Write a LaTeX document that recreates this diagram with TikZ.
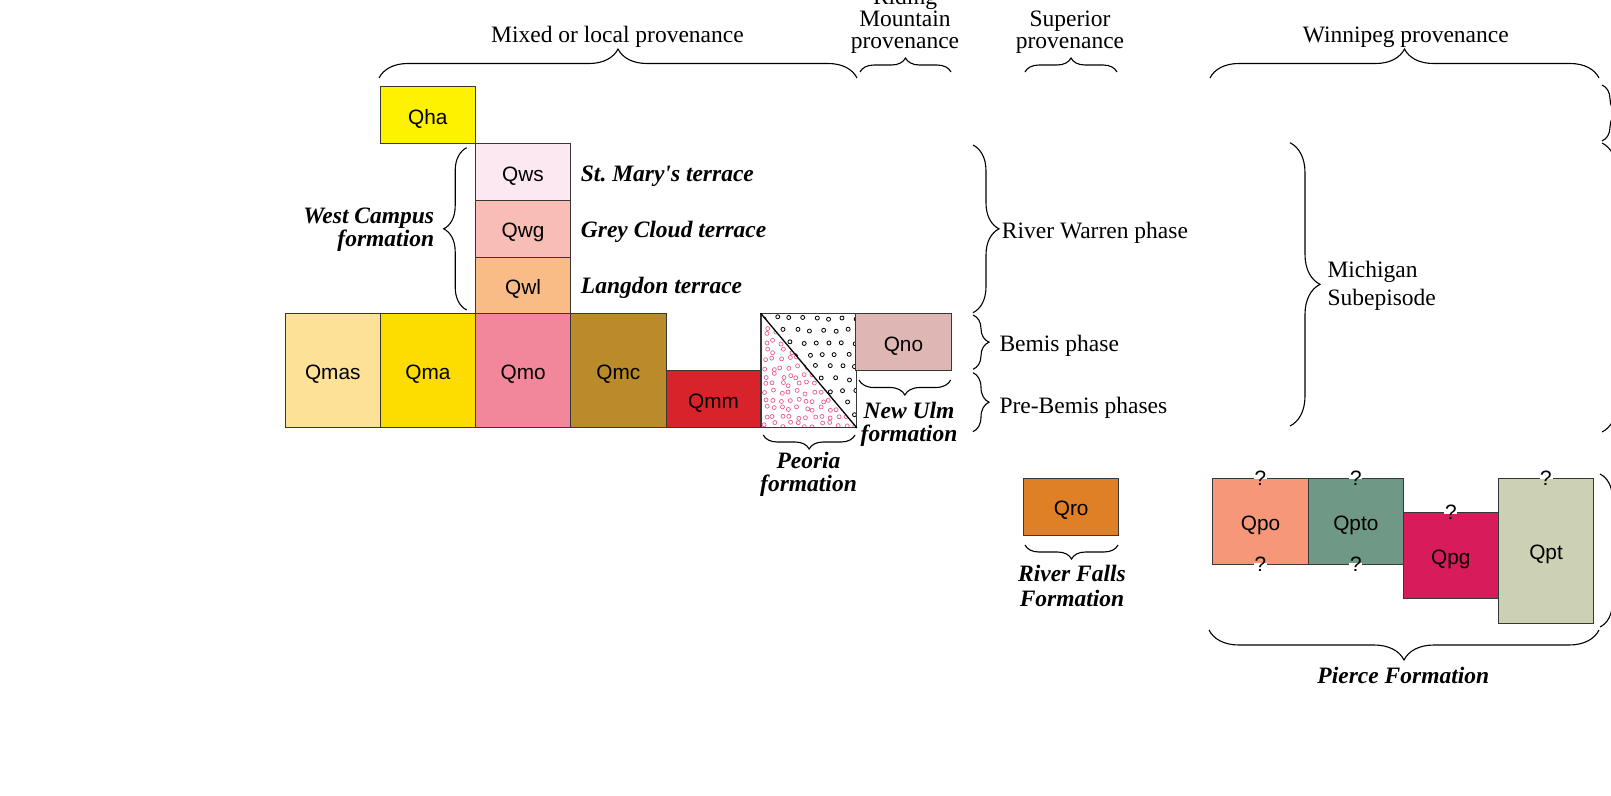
\documentclass[tikz,border=0pt]{standalone}
\usepackage{fontspec}
\setmainfont{Liberation Serif}[Ligatures=TeXOff]
\setsansfont{Liberation Sans}
\usetikzlibrary{decorations.pathreplacing}

\definecolor{cqha}{RGB}{255,242,0}
\definecolor{cqws}{RGB}{252,232,240}
\definecolor{cqwg}{RGB}{248,189,181}
\definecolor{cqwl}{RGB}{249,188,135}
\definecolor{cqmas}{RGB}{253,225,150}
\definecolor{cqma}{RGB}{253,220,0}
\definecolor{cqmo}{RGB}{242,134,154}
\definecolor{cqmc}{RGB}{186,139,42}
\definecolor{cqmm}{RGB}{217,35,42}
\definecolor{cqno}{RGB}{222,182,179}
\definecolor{cqro}{RGB}{224,128,38}
\definecolor{cqpo}{RGB}{246,151,122}
\definecolor{cqpto}{RGB}{111,152,135}
\definecolor{cqpg}{RGB}{216,27,91}
\definecolor{cqpt}{RGB}{205,209,180}
\definecolor{cdots}{RGB}{233,92,150}
\definecolor{cedge}{RGB}{55,55,55}

\tikzset{
  unit/.style={draw=cedge, line width=1pt, inner sep=0pt, minimum width=95.2,
    minimum height=56.8, text height=19pt, text depth=1pt,
    font=\sffamily\fontsize{20.8}{24}\selectfont},
  qtext/.style={inner sep=0pt, font=\sffamily\fontsize{20.8}{24}\selectfont},
  lab/.style={inner sep=0pt, font=\fontsize{23.5}{22}\selectfont},
  blab/.style={inner sep=0pt, font=\bfseries\itshape\fontsize{23.5}{23.4}\selectfont},
  curly/.style={decorate, line width=1.1pt, decoration={brace, amplitude=#1}},
}

% question mark sitting on a box edge
\newcommand{\qmark}[2]{%
  \draw[white, line width=3pt] ([xshift=-6.5pt]#2) -- ([xshift=6.5pt]#2);
  \node[qtext] (#1) at (#2) {?};}

\begin{document}
\frenchspacing
\begin{tikzpicture}[x=1pt,y=-1pt]
 \useasboundingbox (0,0) rectangle (1611,795);

 % mixed or local units
 \node[unit, fill=cqha] (qha) at (427.8,115) {Qha};
 \node[unit, fill=cqws] (qws) at (523,172) {Qws};
 \node[unit, fill=cqwg] (qwg) at (523,228.8) {Qwg};
 \node[unit, fill=cqwl] (qwl) at (523,285.6) {Qwl};
 \node[unit, fill=cqmas, minimum height=113.6] (qmas) at (332.8,370.6) {Qmas};
 \node[unit, fill=cqma, minimum height=113.6] (qma) at (428,370.6) {Qma};
 \node[unit, fill=cqmo, minimum height=113.6] (qmo) at (523.2,370.6) {Qmo};
 \node[unit, fill=cqmc, minimum height=113.6] (qmc) at (618.4,370.6) {Qmc};
 \node[unit, fill=cqmm] (qmm) at (713.6,399) {Qmm};

 % peoria box
 \node[unit, fill=white, minimum height=113.6] (peoria) at (808.8,370.6) {};
 \begin{scope}
  \clip (peoria.north west) -- (peoria.south east) -- (peoria.south west) -- cycle;
  \pgfmathsetseed{7}
  \foreach \i in {0,...,11} {
   \foreach \j in {0,...,13} {
    \draw[cdots, line width=0.7pt] ({766+\i*8+rand*2.4}, {318+\j*8.2+rand*2.4}) circle (2);
   }
  }
 \end{scope}
 \begin{scope}
  \clip (peoria.north west) -- (peoria.north east) -- (peoria.south east) -- cycle;
  \pgfmathsetseed{3}
  \foreach \j in {0,...,9} {
   \foreach \i in {0,...,7} {
    \draw[line width=0.8pt] ({764+\i*13+mod(\j,2)*6.5+rand*1.5}, {318+\j*12.2+rand*1.5}) circle (2);
   }
  }
 \end{scope}
 \draw[cedge, line width=1pt] (peoria.north west) rectangle (peoria.south east);
 \draw[line width=1.3pt] (peoria.north west) -- (peoria.south east);

 \node[unit, fill=cqno] (qno) at (903.4,342) {Qno};
 \node[unit, fill=cqro] (qro) at (1071.2,506.8) {Qro};

 % pierce formation
 \node[unit, fill=cqpo, minimum height=85.7] (qpo) at (1260.5,521.2) {Qpo};
 \node[unit, fill=cqpto, minimum height=85.7] (qpto) at (1355.8,521.2) {Qpto};
 \node[unit, fill=cqpg, minimum height=85.6] (qpg) at (1450.8,555.5) {Qpg};
 \node[unit, fill=cqpt, minimum height=145] (qpt) at (1546,550.8) {Qpt};
 \qmark{qa}{qpo.north}
 \qmark{qb}{qpo.south}
 \qmark{qc}{qpto.north}
 \qmark{qd}{qpto.south}
 \qmark{qe}{qpg.north}
 \qmark{qf}{qpt.north}

 % provenance headings
 \draw[curly=29] (379,78) -- (857,78);
 \draw[curly=14] (860,72) -- (951,72);
 \draw[curly=14] (1025,72) -- (1117,72);
 \draw[curly=29] (1210,78) -- (1599,78);
 \node[lab, anchor=base] (mixed) at (617.5,42) {Mixed or local provenance};
 \node[lab, anchor=south, align=center] (riding) at (905,54) {Riding\\Mountain\\provenance};
 \node[lab, anchor=south, align=center] (superior) at (1070,54) {Superior\\provenance};
 \node[lab, anchor=base] (winnipeg) at (1405.8,42) {Winnipeg provenance};

 % formation names
 \draw[curly=23] (466.7,310) -- (466.7,147.7);
 \node[blab, anchor=north east, align=right] (westcampus) at (434.3,207.6) {West Campus\\formation};
 \node[blab, anchor=base west] (stmary) at (580.7,181.7) {St. Mary's terrace};
 \node[blab, anchor=base west] (greycloud) at (580.7,237.3) {Grey Cloud terrace};
 \node[blab, anchor=base west] (langdon) at (580.7,293.3) {Langdon terrace};

 \draw[curly=14] (855,435) -- (763.3,435);
 \node[blab, anchor=north, align=center] (peorialab) at (808.5,451.5) {Peoria\\formation};
 \draw[curly=15] (950.7,380) -- (859,380);
 \node[blab, anchor=north, align=center] (newulm) at (909,401.5) {New Ulm\\formation};
 \draw[curly=14] (1118,545) -- (1025,545);
 \node[blab, anchor=north, align=center, font=\bfseries\itshape\fontsize{23.5}{25}\selectfont] (riverfalls) at (1072,564.5) {River Falls\\Formation};
 \draw[curly=30] (1599,630) -- (1209,630);
 \node[blab, anchor=base] (pierce) at (1403.3,683.5) {Pierce Formation};

 % phases
 \draw[curly=26] (973,145) -- (973,312.7);
 \draw[curly=16] (973,315) -- (973,369.3);
 \draw[curly=16] (973,372.7) -- (973,431.7);
 \node[lab, anchor=base west] (riverwarren) at (1001.7,238) {River Warren phase};
 \node[lab, anchor=base west] (bemis) at (999.3,351.5) {Bemis phase};
 \node[lab, anchor=base west] (prebemis) at (999.3,413) {Pre-Bemis phases};

 \draw[curly=30] (1290,142.7) -- (1290,426);
 \node[lab, anchor=north west, align=left, font=\fontsize{23.5}{28}\selectfont] (michigan) at (1327.3,260.5) {Michigan\\Subepisode};

 % braces running off the right edge
 \draw[curly=16] (1602,85) -- (1602,141);
 \draw[curly=30] (1602,143) -- (1602,432);
 \draw[curly=25] (1600,474) -- (1600,627);
\end{tikzpicture}
\end{document}
